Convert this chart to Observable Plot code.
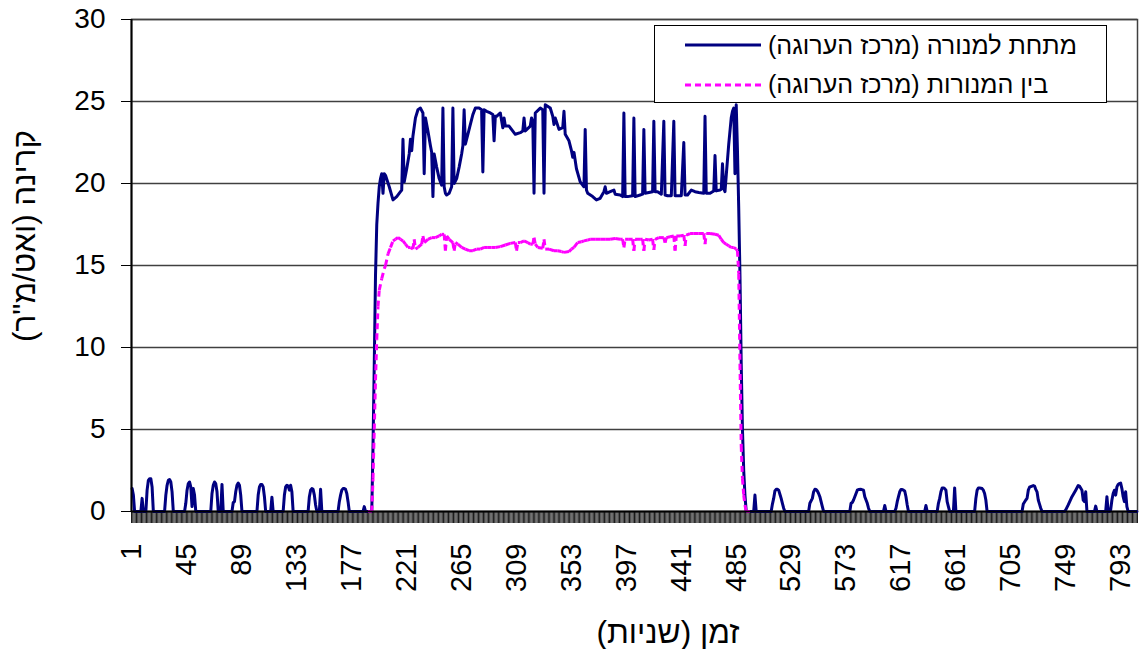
<!DOCTYPE html>
<html>
<head>
<meta charset="utf-8">
<script src="https://cdn.jsdelivr.net/npm/d3@7"></script>
<script src="https://cdn.jsdelivr.net/npm/@observablehq/plot@0.6"></script>
<style>
  html, body { margin: 0; padding: 0; background: #fff; }
  #chart { width: 1139px; height: 649px; }
</style>
</head>
<body>
<div id="chart"></div>
<script>
// ---- data ----
const categoryCount = 806;          // time steps (seconds) 1..806
const labelStart = 1, labelStep = 44; // x tick labels 1, 45, 89, ... 793
const yTicks = [0, 5, 10, 15, 20, 25, 30];
const yGrid = [5, 10, 15, 20, 25, 30];

const seriesBlueName = "מתחת למנורה (מרכז הערוגה)";
const seriesPinkName = "בין המנורות (מרכז הערוגה)";
const xTitle = "זמן (שניות)";
const yTitle = "קרינה (ואט/מ\"ר)";

// [second, irradiance] under the lamp
const blue = [
[1,1.4],[2,1.0],[3,0],[8,0],[9,0.8],[10,0],[12,0],[13,1.3],[14,1.9],[15,2.0],[16,2.0],[17,1.5],[18,0],
[27,0],[28,1.0],[29,1.6],[30,1.9],[31,1.95],[32,1.8],[33,1.2],[34,0],
[43,0],[44,0.5],[45,1.3],[46,1.7],[47,1.8],[48,1.5],[49,0.3],[50,1.4],[51,1.0],[52,0],
[64,0],[65,1.1],[66,1.6],[67,1.8],[68,1.7],[69,1.2],[70,0],[72,0],[73,1.65],[74,0],
[81,0],[82,0.55],[83,0.6],[84,1.2],[85,1.6],[86,1.73],[87,1.6],[88,1.0],[89,0],
[101,0],[102,1.0],[103,1.5],[104,1.65],[105,1.65],[106,1.5],[107,0.9],[108,0],[112,0],[113,0.87],[114,0],
[122,0],[123,1.0],[124,1.5],[125,1.6],[126,1.55],[127,1.3],[128,1.6],[129,1.2],[130,0],
[142,0],[143,0.9],[144,1.3],[145,1.4],[146,1.35],[147,1.0],[148,0.4],[149,0],[151,0],[152,1.35],[153,0],
[166,0],[167,0.6],[168,1.0],[169,1.3],[170,1.4],[171,1.4],[172,1.35],[173,1.1],[174,0.6],[175,0],
[186,0],[187,0.3],[188,0],
[193,0],[194,4],[195,9],[196,14.4],[197,17.5],[198,18.8],[199,19.8],[200,20.3],[201,20.6],[202,19.4],[203,20.6],[204,20.5],[207,19.8],[210,19.0],[213,19.2],[216,19.5],[217,19.6],[218,22.7],[219,20.1],[221,20.9],[223,21.8],[224,22.7],[225,22.0],[226,22.9],[228,24.0],[230,24.5],[232,24.6],[234,24.3],[235,20.6],[236,24.0],[238,23.2],[240,22.3],[241,21.9],[242,19.2],[243,21.8],[245,21.0],[247,20.3],[249,19.9],[250,24.6],[251,19.8],[252,19.4],[253,19.3],[255,19.4],[257,19.8],[258,24.6],[259,20.0],[261,20.3],[263,21.0],[265,21.8],[266,22.3],[267,24.5],[268,22.4],[270,23.0],[272,23.6],[274,24.2],[276,24.6],[279,24.6],[281,24.5],[282,20.7],[283,24.5],[285,24.4],[288,24.3],[290,24.2],[291,22.6],[292,24.1],[293,24.1],[296,24.3],[298,23.4],[299,24.0],[300,23.5],[303,23.5],[308,23.0],[312,23.1],[314,23.2],[315,24.0],[316,23.2],[320,23.5],[321,24.0],[322,23.8],[323,19.4],[324,24.3],[328,24.6],[330,24.5],[331,19.4],[332,24.8],[336,24.6],[338,24.1],[339,23.6],[340,24.0],[343,23.3],[346,23.4],[347,24.4],[348,23.0],[351,22.6],[353,22.0],[354,21.6],[355,21.9],[357,20.9],[360,20.1],[363,19.8],[364,23.3],[365,19.6],[366,19.4],[370,19.2],[373,19.0],[376,19.1],[379,19.5],[380,19.8],[381,19.4],[384,19.5],[387,19.6],[388,19.35],[392,19.3],[394,19.2],[395,24.3],[396,19.2],[398,19.2],[402,19.25],[403,24.0],[404,19.2],[408,19.3],[410,19.35],[411,23.3],[412,19.4],[415,19.45],[418,19.5],[419,23.8],[420,19.5],[422,19.5],[425,19.35],[427,23.8],[428,19.3],[430,19.25],[433,19.25],[435,23.8],[436,19.25],[441,19.25],[443,22.5],[444,19.3],[446,19.3],[449,19.6],[452,19.5],[455,19.45],[459,19.4],[460,24.1],[461,19.4],[464,19.4],[466,19.5],[467,19.55],[468,21.7],[469,19.55],[472,19.6],[473,19.65],[474,21.2],[475,19.7],[476,19.5],[477,20.5],[479,22.4],[481,24.0],[482,24.4],[483,24.6],[484,20.6],[485,24.8],[486,22],[487,18.5],[488,14.4],[489,9],[490,5],[491,2.5],[492,1],[493,0],
[499,0],[500,1.0],[501,0],
[513,0],[514,0.45],[515,0.8],[516,1.25],[517,1.35],[518,1.35],[519,1.3],[520,1.05],[521,0.8],[522,0.5],[523,0.2],[524,0],
[543,0],[544,0.5],[546,0.8],[547,1.2],[548,1.35],[549,1.34],[550,1.25],[551,1.1],[552,0.9],[553,0.6],[554,0.3],[555,0],
[576,0],[577,0.5],[578,0.55],[579,0.7],[580,0.9],[582,1.3],[583,1.34],[585,1.35],[587,1.3],[588,0.9],[589,0.7],[590,0.5],[591,0.2],[592,0],
[603,0],[604,0.37],[605,0],
[612,0],[613,0.2],[614,0.6],[615,0.9],[616,1.2],[617,1.34],[618,1.34],[619,1.3],[620,1.25],[621,0.9],[622,0.4],[623,0],
[636,0],[637,0.37],[638,0],
[646,0],[647,0.5],[648,0.8],[649,1.2],[650,1.44],[651,1.44],[652,1.4],[653,1.3],[654,0.6],[655,0.3],[656,0],[659,0],[660,1.44],[661,0],
[676,0],[677,0.8],[678,1.3],[679,1.44],[680,1.44],[681,1.42],[682,1.4],[683,1.3],[684,1.1],[685,0.7],[686,0],
[714,0],[715,0.46],[717,0.7],[718,0.8],[719,1.3],[720,1.48],[722,1.55],[723,1.58],[724,1.55],[725,1.35],[726,1.2],[727,0.7],[728,0.45],[729,0.2],[730,0],
[748,0],[749,0.1],[751,0.4],[754,0.9],[757,1.3],[759,1.58],[760,1.55],[762,1.3],[763,0.7],[764,0.6],[765,1.2],[766,0],
[772,0],[773,0.33],[774,0],
[781,0],[782,0.9],[783,0],
[784,0],[785,0.1],[786,0.7],[787,1.1],[788,1.3],[789,1.0],[790,1.5],[791,1.65],[792,1.7],[793,1.73],[794,1.4],[795,0.9],[796,0.6],[797,1.2],[798,0.3],[799,0],[806,0]
];

// [second, irradiance] between the lamps
const pink = [
[190,0],[193,0],[194,2],[195,5],[196,8],[197,10.5],[198,12.5],[199,13.5],[201,14.2],[203,14.8],[204,15.0],[206,15.7],[208,16.1],[210,16.5],[212,16.6],[214,16.7],[216,16.6],[218,16.5],[220,16.3],[222,16.1],[224,16.1],[226,16.0],[227,16.6],[228,16.0],[230,16.1],[233,16.3],[234,16.8],[235,16.4],[238,16.6],[241,16.7],[244,16.7],[247,16.8],[249,16.9],[251,16.9],[252,15.9],[253,16.8],[255,16.6],[258,16.4],[259,15.9],[260,16.4],[262,16.3],[265,16.1],[268,16.0],[271,15.9],[274,15.9],[277,16.0],[280,16.0],[283,16.1],[286,16.1],[289,16.1],[292,16.1],[296,16.15],[300,16.25],[304,16.35],[308,16.4],[309,15.9],[310,16.4],[312,16.4],[315,16.5],[318,16.4],[320,16.3],[322,16.3],[323,16.7],[324,16.3],[326,16.1],[330,16.05],[331,16.6],[332,16.0],[335,16.0],[339,15.9],[342,15.9],[345,15.85],[347,15.8],[351,15.85],[353,16.0],[355,16.1],[358,16.4],[361,16.45],[363,16.5],[366,16.55],[368,16.6],[372,16.6],[376,16.6],[380,16.6],[384,16.6],[388,16.65],[392,16.6],[394,16.6],[395,16.1],[396,16.6],[399,16.6],[402,16.6],[403,15.9],[404,16.6],[408,16.6],[410,16.6],[411,15.9],[412,16.6],[415,16.55],[418,16.6],[419,15.95],[420,16.6],[423,16.7],[427,16.7],[428,16.4],[429,16.7],[432,16.75],[435,16.8],[436,15.9],[437,16.8],[440,16.8],[443,16.85],[444,16.2],[445,16.85],[448,16.95],[451,16.95],[455,16.95],[459,16.95],[460,16.3],[461,16.95],[464,16.95],[468,16.9],[471,16.85],[473,16.6],[475,16.4],[477,16.3],[479,16.2],[481,16.1],[483,16.1],[485,16.0],[486,15.9],[487,14.5],[488,9],[489,4],[490,2],[491,1],[492,0.4],[493,0],[496,0]
];

// ---- derived tables for the library ----
const blueRows = blue.map(([t, v]) => ({t, v}));
// Excel restarts the dash pattern on every segment: draw each segment separately
const pinkSegs = pink.slice(1).map((p, k) => ({x1: pink[k][0], y1: pink[k][1], x2: p[0], y2: p[1]}));
const labelTicks = d3.range(labelStart, categoryCount + 1, labelStep);
const boundaryTicks = d3.range(0, categoryCount + 1).map(i => i + 0.5);

const FONT = "'Liberation Sans', Arial, 'DejaVu Sans', sans-serif";
const RLM = "\u200F";

const chart = Plot.plot({
  width: 1139,
  height: 649,
  marginLeft: 131,
  marginRight: 2,
  marginTop: 19,
  marginBottom: 138,
  style: {fontFamily: FONT, color: "#000", background: "#fff", overflow: "visible"},
  x: {domain: [0.5, categoryCount + 0.5]},
  y: {domain: [0, 30]},
  marks: [
    Plot.ruleY(yGrid, {stroke: "#404040", strokeWidth: 1.5}),
    Plot.frame({stroke: "#404040", strokeWidth: 1.5}),
    Plot.axisX({ticks: boundaryTicks, tickFormat: () => "", tickSize: 12, label: null, stroke: "#1a1a1a", strokeWidth: 1}),
    Plot.line(blueRows, {x: "t", y: "v", stroke: "#000080", strokeWidth: 3, strokeLinejoin: "round", strokeLinecap: "round"}),
    Plot.link(pinkSegs, {x1: "x1", y1: "y1", x2: "x2", y2: "y2", stroke: "#FF00FF", strokeWidth: 3, strokeDasharray: "6,4", strokeLinecap: "butt"}),
    Plot.ruleY([0], {stroke: "#000", strokeWidth: 2}),
    Plot.ruleX([0.5], {stroke: "#000", strokeWidth: 2}),
    Plot.axisY({ticks: yTicks, tickSize: 10, tickPadding: 16, fontSize: 28, label: null, stroke: "#000"}),
    Plot.axisX({ticks: labelTicks, tickSize: 0, tickPadding: 32, tickRotate: -90, fontSize: 29, label: null})
  ]
});

document.getElementById("chart").appendChild(chart);

// titles and legend
const svg = d3.select(chart);

// place a text so that its visual box has the given width and left/centre
function placeText(node, targetWidth, opts) {
  const sel = d3.select(node);
  let fs = parseFloat(sel.style("font-size"));
  let bb = node.getBBox();
  const w = opts.rotated ? bb.height : bb.width;
  const wReal = opts.rotated ? bb.width : bb.width;
  const cur = node.getComputedTextLength();
  if (cur > 0) { fs = fs * targetWidth / cur; sel.style("font-size", fs + "px"); }
  bb = node.getBBox();
  if (opts.left !== undefined) {
    sel.attr("x", +sel.attr("x") + (opts.left - bb.x));
  } else if (opts.cx !== undefined) {
    sel.attr("x", +sel.attr("x") + (opts.cx - (bb.x + bb.width / 2)));
  }
}

const yT = svg.append("text")
  .attr("x", 0).attr("y", 0)
  .attr("dominant-baseline", "central")
  .style("font-family", FONT).style("font-size", "30px").attr("fill", "#000")
  .text(RLM + yTitle + RLM);
placeText(yT.node(), 212, {cx: 0});
yT.attr("transform", "translate(24,236) rotate(-90)");

const xT = svg.append("text")
  .attr("x", 0).attr("y", 632)
  .attr("dominant-baseline", "central")
  .style("font-family", FONT).style("font-size", "30px").attr("fill", "#000")
  .text(RLM + xTitle + RLM);
placeText(xT.node(), 143, {cx: 668});

const lg = svg.append("g");
lg.append("rect").attr("x", 654.5).attr("y", 25.5).attr("width", 452).attr("height", 77)
  .attr("fill", "#fff").attr("stroke", "#000").attr("stroke-width", 1);
lg.append("line").attr("x1", 685).attr("x2", 761).attr("y1", 45).attr("y2", 45)
  .attr("stroke", "#000080").attr("stroke-width", 3);
lg.append("line").attr("x1", 685).attr("x2", 761).attr("y1", 85).attr("y2", 85)
  .attr("stroke", "#FF00FF").attr("stroke-width", 3).attr("stroke-dasharray", "6,4");
const l1 = lg.append("text").attr("x", 0).attr("y", 54)
  .style("font-family", FONT).style("font-size", "25px").attr("fill", "#000")
  .text(RLM + seriesBlueName + RLM);
placeText(l1.node(), 309, {left: 768});
const l2 = lg.append("text").attr("x", 0).attr("y", 93)
  .style("font-family", FONT).style("font-size", l1.style("font-size")).attr("fill", "#000")
  .text(RLM + seriesPinkName + RLM);
{ const bb = l2.node().getBBox(); l2.attr("x", 768 - bb.x); }
</script>
</body>
</html>
